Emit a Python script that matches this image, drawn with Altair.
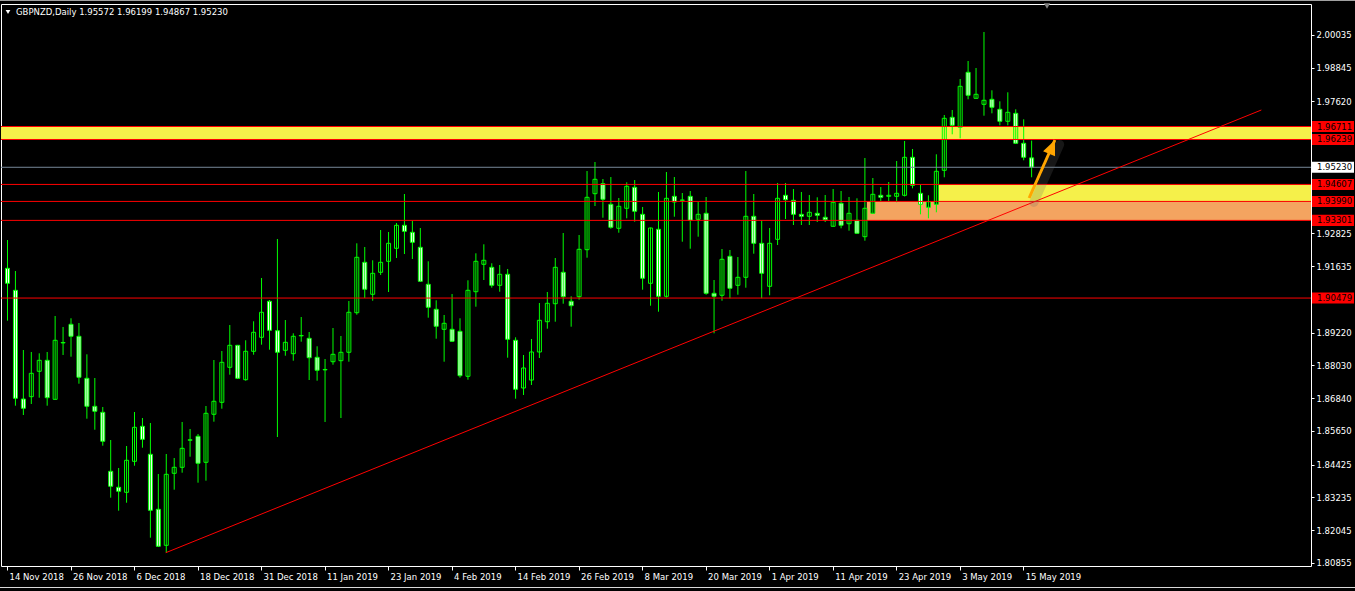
import json

import altair as alt
import pandas as pd

# GBPNZD daily candles, 14 Nov 2018 .. 16 May 2019, one entry per session
opens = [
    1.91560, 1.90761, 1.86812, 1.86896, 1.87819, 1.88218, 1.86801, 1.88850, 1.89526, 1.89090,
    1.87564, 1.86547, 1.86329, 1.84186, 1.83605, 1.83423, 1.84549, 1.85821, 1.84804, 1.82806,
    1.81498, 1.84113, 1.84331, 1.85316, 1.85458, 1.84513, 1.86257, 1.86692, 1.87964, 1.88763,
    1.87513, 1.88545, 1.89054, 1.90361, 1.89293, 1.88581, 1.88458, 1.89105, 1.89017, 1.88327,
    1.87870, 1.88167, 1.88204, 1.88509, 1.89947, 1.91778, 1.90616, 1.91415, 1.91814, 1.92287,
    1.93122, 1.92868, 1.92323, 1.90979, 1.90071, 1.89344, 1.89344, 1.89271, 1.87637, 1.90710,
    1.91705, 1.91596, 1.90942, 1.91342, 1.88945, 1.87212, 1.87500, 1.88520, 1.89620, 1.90274,
    1.91415, 1.90361, 1.90528, 1.92236, 1.94270, 1.94633, 1.93885, 1.93013, 1.93740, 1.94502,
    1.93521, 1.91015, 1.92977, 1.90543, 1.94175, 1.94030, 1.94175, 1.93340, 1.93558, 1.90652,
    1.90579, 1.91996, 1.90942, 1.91233, 1.93449, 1.92468, 1.90906, 1.92613, 1.94212, 1.94030,
    1.93521, 1.93449, 1.93558, 1.93413, 1.93086, 1.93921, 1.93180, 1.93304, 1.92708, 1.93558,
    1.94212, 1.94175, 1.94175, 1.94212, 1.95592, 1.94284, 1.93776, 1.93885, 1.95120, 1.97045,
    1.96682, 1.98680, 1.97735, 1.97517, 1.97699, 1.97336, 1.96900, 1.97190, 1.96101, 1.95572,
]
highs = [
    1.92588, 1.91462, 1.88592, 1.88520, 1.88472, 1.88520, 1.89827, 1.89428, 1.89744, 1.89573,
    1.88436, 1.87575, 1.86522, 1.85323, 1.84306, 1.85105, 1.86340, 1.86122, 1.85941, 1.84088,
    1.84814, 1.84669, 1.85977, 1.85723, 1.85541, 1.86558, 1.88229, 1.88556, 1.89500, 1.88770,
    1.88945, 1.89635, 1.91208, 1.90408, 1.92624, 1.89682, 1.89199, 1.89791, 1.89246, 1.88727,
    1.88265, 1.89391, 1.89101, 1.90372, 1.92468, 1.92334, 1.91851, 1.92951, 1.92879, 1.93206,
    1.94259, 1.93278, 1.93024, 1.91814, 1.90398, 1.89864, 1.90626, 1.89744, 1.91124, 1.92105,
    1.92432, 1.91742, 1.91680, 1.91535, 1.89054, 1.88411, 1.88992, 1.90300, 1.90699, 1.91934,
    1.92842, 1.90543, 1.92770, 1.95094, 1.95421, 1.94804, 1.94876, 1.94114, 1.94684, 1.94767,
    1.93787, 1.93040, 1.94332, 1.95058, 1.94876, 1.94295, 1.94368, 1.93968, 1.94150, 1.91135,
    1.92261, 1.92225, 1.91970, 1.95094, 1.94259, 1.93289, 1.93024, 1.94659, 1.94659, 1.94441,
    1.94332, 1.94223, 1.94139, 1.94223, 1.94441, 1.94368, 1.94150, 1.94103, 1.95567, 1.94840,
    1.94513, 1.94695, 1.95458, 1.96184, 1.95894, 1.94586, 1.94212, 1.95701, 1.97129, 1.97310,
    1.98436, 1.99090, 1.98836, 2.00144, 1.98026, 1.97626, 1.97953, 1.97336, 1.96972, 1.96199,
]
lows = [
    1.89657, 1.86569, 1.86231, 1.86631, 1.86860, 1.86569, 1.86790, 1.88411, 1.88349, 1.87368,
    1.86097, 1.85697, 1.85116, 1.83227, 1.82755, 1.83045, 1.84389, 1.85043, 1.81774, 1.81455,
    1.81229, 1.83518, 1.84135, 1.84716, 1.83772, 1.83845, 1.85988, 1.86460, 1.87695, 1.87550,
    1.87477, 1.88422, 1.88785, 1.88603, 1.85432, 1.88385, 1.88204, 1.88894, 1.87502, 1.87477,
    1.85977, 1.88058, 1.86122, 1.88167, 1.89874, 1.90481, 1.90383, 1.91317, 1.90699, 1.91934,
    1.92079, 1.91898, 1.91080, 1.89766, 1.89003, 1.88167, 1.88900, 1.87586, 1.87513, 1.90165,
    1.91135, 1.90855, 1.90710, 1.88313, 1.86823, 1.86958, 1.87321, 1.88302, 1.89366, 1.89620,
    1.90274, 1.89439, 1.90419, 1.91945, 1.93823, 1.93398, 1.92998, 1.92853, 1.93376, 1.93253,
    1.90783, 1.90201, 1.89984, 1.90492, 1.93434, 1.92526, 1.92272, 1.92708, 1.90601, 1.89199,
    1.90383, 1.90470, 1.90601, 1.90855, 1.92090, 1.90470, 1.90579, 1.92406, 1.93351, 1.93133,
    1.93133, 1.93133, 1.93242, 1.93242, 1.93080, 1.93013, 1.92926, 1.92825, 1.92563, 1.93550,
    1.94005, 1.94005, 1.93957, 1.94170, 1.94466, 1.93521, 1.93376, 1.93594, 1.94866, 1.96428,
    1.96282, 1.97699, 1.97730, 1.97103, 1.97190, 1.96754, 1.96754, 1.96095, 1.95483, 1.94867,
]
closes = [
    1.91015, 1.86838, 1.86475, 1.87746, 1.88218, 1.86860, 1.88945, 1.88865, 1.89090, 1.87601,
    1.86547, 1.86366, 1.85276, 1.83641, 1.83460, 1.84586, 1.85784, 1.85348, 1.82769, 1.81462,
    1.84077, 1.84331, 1.85021, 1.85330, 1.84477, 1.86293, 1.86729, 1.88145, 1.88763, 1.87564,
    1.88545, 1.89235, 1.89962, 1.89308, 1.88509, 1.88872, 1.89090, 1.89120, 1.88313, 1.87855,
    1.87885, 1.88436, 1.88509, 1.89962, 1.91960, 1.90797, 1.91378, 1.91778, 1.92468, 1.93122,
    1.92904, 1.92504, 1.91088, 1.90143, 1.89453, 1.89562, 1.88908, 1.87659, 1.90761, 1.91814,
    1.91851, 1.90942, 1.91342, 1.88981, 1.87165, 1.87939, 1.88520, 1.89671, 1.90289, 1.91596,
    1.90528, 1.90201, 1.92250, 1.94139, 1.94793, 1.94066, 1.93049, 1.93812, 1.94539, 1.93631,
    1.91197, 1.93024, 1.90543, 1.94103, 1.93968, 1.94040, 1.93304, 1.93521, 1.90652, 1.90543,
    1.91887, 1.90833, 1.91233, 1.93449, 1.92468, 1.91378, 1.92468, 1.94103, 1.94052, 1.93521,
    1.93449, 1.93594, 1.93485, 1.93325, 1.93957, 1.93122, 1.93558, 1.92831, 1.93740, 1.94248,
    1.94139, 1.94212, 1.94284, 1.95592, 1.94575, 1.93885, 1.93979, 1.95084, 1.97009, 1.96754,
    1.98171, 1.97844, 1.97881, 1.97663, 1.97408, 1.96900, 1.97227, 1.96101, 1.95592, 1.95230,
]

# time axis: a label every 8 sessions
tick_bars = list(range(0, 129, 8))
tick_labels = [
    "14 Nov 2018", "26 Nov 2018", "6 Dec 2018", "18 Dec 2018", "31 Dec 2018",
    "11 Jan 2019", "23 Jan 2019", "4 Feb 2019", "14 Feb 2019", "26 Feb 2019",
    "8 Mar 2019", "20 Mar 2019", "1 Apr 2019", "11 Apr 2019", "23 Apr 2019",
    "3 May 2019", "15 May 2019",
]

# price scale labels (those under the level tags are left out)
price_ticks = [
    1.80855, 1.82045, 1.83235, 1.84425, 1.85650, 1.86840, 1.88030, 1.89220,
    1.91635, 1.92825, 1.97620, 1.98845, 2.00035,
]

# horizontal levels drawn on the chart
level_prices = [1.96711, 1.96239, 1.94607, 1.93990, 1.93301, 1.90479]
bid_price = 1.95230

# shaded zones: first bar, lower price, upper price, fill
zone_start = [117.35, 108.3]
zone_low = [1.93990, 1.93301]
zone_high = [1.94607, 1.93990]
zone_fill = ["#f5f04a", "#f4a460"]
top_zone = (1.96239, 1.96711)

# rising support line and the projected move
trend_bars = [20, 158]
trend_prices = [1.81229, 1.97310]
arrow_bars = [128.75, 132.0]
arrow_prices = [1.94114, 1.96221]

title_text = "GBPNZD,Daily  1.95572 1.96199 1.94867 1.95230"

FONT = "DejaVu Sans"
FS = 8.5
W, H = 1310, 562
GREEN = "#00ff00"
RED = "#ff0000"

candles = pd.DataFrame({
    "bar": list(range(len(opens))),
    "open": opens, "high": highs, "low": lows, "close": closes,
})

xs = alt.Scale(domain=[-0.125, 163.625], nice=False, zero=False)
ys = alt.Scale(domain=[1.80746, 2.01161], nice=False, zero=False)

x_axis = alt.Axis(
    values=tick_bars,
    labelExpr=f"{json.dumps(tick_labels)}[round(datum.value / 8)]",
    labelAlign="left", labelOffset=2, labelPadding=2, tickSize=4,
    labelBaseline="top", labelOverlap=False, title=None,
)
y_axis = alt.Axis(
    orient="right", values=price_ticks, format=".5f", tickSize=3,
    labelPadding=2, title=None, labelBaseline="middle", labelOverlap=False,
)

base = alt.Chart(candles)

# zones anchored at a bar and running off the right edge
zones = alt.Chart(pd.DataFrame({
    "start": zone_start, "lo": zone_low, "hi": zone_high, "fill": zone_fill,
})).mark_rect(clip=True).encode(
    x=alt.X("start:Q", scale=xs, axis=x_axis),
    x2=alt.value(W),
    y=alt.Y("lo:Q", scale=ys, axis=y_axis),
    y2="hi:Q",
    fill=alt.Fill("fill:N", scale=None),
)

body_fill = base.mark_bar(size=4, xOffset=0.5).encode(
    x=alt.X("bar:Q", scale=xs, axis=x_axis),
    y=alt.Y("open:Q", scale=ys, axis=y_axis),
    y2="close:Q",
    fill=alt.condition("datum.close < datum.open", alt.value("#ffffff"), alt.value("#000000")),
)

band = alt.Chart(pd.DataFrame({"lo": [top_zone[0]], "hi": [top_zone[1]]})).mark_rect(
    color="#f5f04a"
).encode(
    x=alt.value(0), x2=alt.value(W),
    y=alt.Y("lo:Q", scale=ys, axis=y_axis), y2="hi:Q",
)

wicks = base.mark_rule(color=GREEN, strokeWidth=1, xOffset=0.5).encode(
    x=alt.X("bar:Q", scale=xs, axis=x_axis),
    y=alt.Y("low:Q", scale=ys, axis=y_axis), y2="high:Q",
)

body_edge = base.mark_bar(size=4, xOffset=0.5, fillOpacity=0, stroke=GREEN, strokeWidth=1).encode(
    x=alt.X("bar:Q", scale=xs, axis=x_axis),
    y=alt.Y("open:Q", scale=ys, axis=y_axis), y2="close:Q",
)

levels = alt.Chart(pd.DataFrame({"price": level_prices})).mark_rule(
    color=RED, strokeWidth=1
).encode(y=alt.Y("price:Q", scale=ys, axis=y_axis))

bid = alt.Chart(pd.DataFrame({"price": [bid_price]})).mark_rule(
    color="#778899", strokeWidth=1
).encode(y=alt.Y("price:Q", scale=ys, axis=y_axis))

trend = alt.Chart(pd.DataFrame({"bar": trend_bars, "price": trend_prices})).mark_line(
    color=RED, strokeWidth=1
).encode(x=alt.X("bar:Q", scale=xs, axis=x_axis), y=alt.Y("price:Q", scale=ys, axis=y_axis))

arrow_df = pd.DataFrame({"bar": arrow_bars, "price": arrow_prices})
# soft drop shadow, nudged down and to the right of the arrow
arrow_glow = alt.Chart(arrow_df).transform_calculate(
    sbar="datum.bar + 0.6", sprice="datum.price - 0.0016"
).mark_line(color="#6a6a6a", strokeWidth=9, opacity=0.22, strokeCap="round").encode(
    x=alt.X("sbar:Q", scale=xs, axis=x_axis), y=alt.Y("sprice:Q", scale=ys, axis=y_axis)
)
arrow_shaft = alt.Chart(arrow_df).mark_line(color="#ffa500", strokeWidth=3).encode(
    x=alt.X("bar:Q", scale=xs, axis=x_axis), y=alt.Y("price:Q", scale=ys, axis=y_axis)
)
arrow_head = alt.Chart(arrow_df.tail(1)).mark_point(
    shape="M0,0 L0.65,1.5 L-0.65,1.5 Z", filled=True, color="#ffa500",
    size=400, opacity=1, angle=23,
).encode(x=alt.X("bar:Q", scale=xs, axis=x_axis), y=alt.Y("price:Q", scale=ys, axis=y_axis))

tags = pd.DataFrame({
    "price": level_prices + [bid_price],
    "bg": ["#ff0000"] * len(level_prices) + ["#ffffff"],
})
tag_boxes = alt.Chart(tags).transform_calculate(
    top="datum.price + 0.0020", bot="datum.price - 0.0020"
).mark_rect().encode(
    x=alt.value(W + 1), x2=alt.value(W + 43),
    y=alt.Y("top:Q", scale=ys, axis=y_axis), y2="bot:Q",
    fill=alt.Fill("bg:N", scale=None),
)
tag_text = alt.Chart(tags).mark_text(
    align="left", baseline="middle", font=FONT, fontSize=FS, color="#000000"
).encode(
    x=alt.value(W + 6), y=alt.Y("price:Q", scale=ys, axis=y_axis),
    text=alt.Text("price:Q", format=".5f"),
)

title_df = pd.DataFrame({"t": [title_text]})
title_mark = alt.Chart(title_df).mark_text(
    align="left", baseline="middle", font=FONT, fontSize=FS, color="#ffffff"
).encode(x=alt.value(15), y=alt.value(8), text="t:N")
title_arrow = alt.Chart(title_df).mark_point(
    shape="triangle-down", filled=True, color="#ffffff", size=22, opacity=1
).encode(x=alt.value(7), y=alt.value(8))
shift_marker = alt.Chart(title_df).mark_point(
    shape="triangle-down", filled=True, color="#808080", size=40, opacity=1
).encode(x=alt.value(1046), y=alt.value(2))

# window frame edges above and below the chart
frame_top = alt.Chart(title_df).mark_rule(color="#a0a0a0", strokeWidth=1).encode(
    x=alt.value(-1), x2=alt.value(W + 45), y=alt.value(-3.5)
)
frame_bottom = alt.Chart(title_df).mark_rule(color="#d8d8d8", strokeWidth=1).encode(
    x=alt.value(-1), x2=alt.value(W + 45), y=alt.value(H + 21.5)
)

chart = alt.layer(
    zones, body_fill, band, wicks, body_edge, levels, bid, trend,
    arrow_glow, arrow_shaft, arrow_head, tag_boxes, tag_text, title_arrow, title_mark,
    shift_marker, frame_top, frame_bottom,
).properties(
    width=W, height=H,
    autosize="none",
    padding={"left": 1, "top": 4, "right": 44, "bottom": 25},
    background="#000000",
).configure_view(
    stroke="#ffffff", strokeWidth=1,
).configure_axis(
    labelColor="#ffffff", tickColor="#ffffff", domain=False, grid=False,
    labelFont=FONT, labelFontSize=FS, labelOverlap=False,
)

chart.save("out.html", embed_options={"renderer": "svg", "actions": False})
